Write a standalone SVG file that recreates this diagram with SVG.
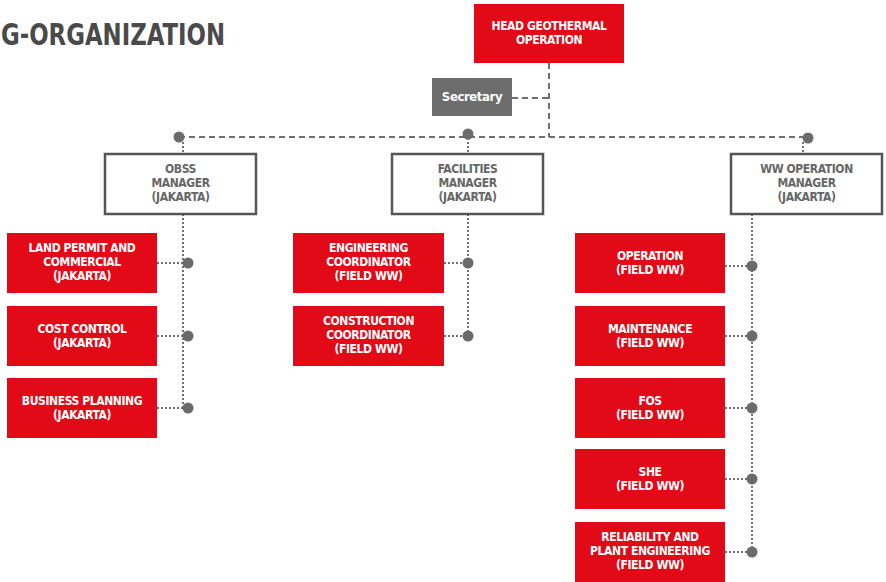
<svg xmlns="http://www.w3.org/2000/svg" width="886" height="582" viewBox="0 0 886 582">
<style>
.t{font-family:"Liberation Sans Narrow","DejaVu Sans Condensed","Liberation Sans",sans-serif;font-weight:bold;text-anchor:middle;font-size:12px;letter-spacing:-0.4px}
.red rect{fill:#e20a17}
.red text{fill:#fff}
.mgr rect{fill:#fff;stroke:#555;stroke-width:2.5}
.mgr text{fill:#666}
.dash{stroke:#707070;stroke-width:2;stroke-dasharray:6 4;fill:none}
.dot{stroke:#707070;stroke-width:2;stroke-dasharray:2 2;fill:none}
.pt{fill:#6b6b6b}
</style>
<rect width="886" height="582" fill="#fff"/>
<text x="1" y="45" font-family="Liberation Sans Narrow,DejaVu Sans Condensed,Liberation Sans,sans-serif" font-weight="bold" font-size="30" fill="#4a4a4a" textLength="224" lengthAdjust="spacingAndGlyphs">G-ORGANIZATION</text>

<g id="connectors">
<path class="dash" d="M549 63V137M512 98H549M179 137H808"/>
<path class="dot" d="M183 142V154M468 138V154M803 142V154"/>
<path class="dot" d="M183 214V408M157 263H188M157 336H188M157 408H188"/>
<path class="dot" d="M468 214V336M444 263H468M444 336H468"/>
<path class="dot" d="M752 214V552M725 266H752M725 336H752M725 408H752M725 479H752M725 552H752"/>
<circle class="pt" cx="179" cy="137" r="5.5"/>
<circle class="pt" cx="468" cy="134" r="5.5"/>
<circle class="pt" cx="808" cy="138" r="5.5"/>
<circle class="pt" cx="188" cy="263" r="5.5"/>
<circle class="pt" cx="188" cy="336" r="5.5"/>
<circle class="pt" cx="188" cy="408" r="5.5"/>
<circle class="pt" cx="468" cy="263" r="5.5"/>
<circle class="pt" cx="468" cy="336" r="5.5"/>
<circle class="pt" cx="752" cy="266" r="5.5"/>
<circle class="pt" cx="752" cy="336" r="5.5"/>
<circle class="pt" cx="752" cy="408" r="5.5"/>
<circle class="pt" cx="752" cy="479" r="5.5"/>
<circle class="pt" cx="752" cy="552" r="5.5"/>
</g>

<g id="head" class="red"><rect x="474" y="4" width="150" height="59"/><text class="t" x="549" y="30">HEAD GEOTHERMAL</text><text class="t" x="549" y="44">OPERATION</text></g>
<g id="secretary"><rect x="432" y="78" width="80" height="38" fill="#6d6d6d"/><text class="t" x="472" y="101" fill="#fff" style="font-size:13px">Secretary</text></g>

<g id="obss" class="mgr"><rect x="105" y="154" width="151" height="60"/><text class="t" x="180.5" y="173">OBSS</text><text class="t" x="180.5" y="187">MANAGER</text><text class="t" x="180.5" y="201">(JAKARTA)</text></g>
<g id="facilities" class="mgr"><rect x="392" y="154" width="151" height="60"/><text class="t" x="467.5" y="173">FACILITIES</text><text class="t" x="467.5" y="187">MANAGER</text><text class="t" x="467.5" y="201">(JAKARTA)</text></g>
<g id="ww" class="mgr"><rect x="731" y="154" width="151" height="60"/><text class="t" x="806.5" y="173">WW OPERATION</text><text class="t" x="806.5" y="187">MANAGER</text><text class="t" x="806.5" y="201">(JAKARTA)</text></g>

<g id="land" class="red"><rect x="7" y="233" width="150" height="60"/><text class="t" x="82" y="252">LAND PERMIT AND</text><text class="t" x="82" y="266">COMMERCIAL</text><text class="t" x="82" y="280">(JAKARTA)</text></g>
<g id="cost" class="red"><rect x="7" y="306" width="150" height="60"/><text class="t" x="82" y="333">COST CONTROL</text><text class="t" x="82" y="347">(JAKARTA)</text></g>
<g id="business" class="red"><rect x="7" y="378" width="150" height="60"/><text class="t" x="82" y="405">BUSINESS PLANNING</text><text class="t" x="82" y="419">(JAKARTA)</text></g>

<g id="engineering" class="red"><rect x="293" y="233" width="151" height="60"/><text class="t" x="368.5" y="252">ENGINEERING</text><text class="t" x="368.5" y="266">COORDINATOR</text><text class="t" x="368.5" y="280">(FIELD WW)</text></g>
<g id="construction" class="red"><rect x="293" y="306" width="151" height="60"/><text class="t" x="368.5" y="325">CONSTRUCTION</text><text class="t" x="368.5" y="339">COORDINATOR</text><text class="t" x="368.5" y="353">(FIELD WW)</text></g>

<g id="operation" class="red"><rect x="575" y="233" width="150" height="60"/><text class="t" x="650" y="260">OPERATION</text><text class="t" x="650" y="274">(FIELD WW)</text></g>
<g id="maintenance" class="red"><rect x="575" y="306" width="150" height="60"/><text class="t" x="650" y="333">MAINTENANCE</text><text class="t" x="650" y="347">(FIELD WW)</text></g>
<g id="fos" class="red"><rect x="575" y="378" width="150" height="60"/><text class="t" x="650" y="405">FOS</text><text class="t" x="650" y="419">(FIELD WW)</text></g>
<g id="she" class="red"><rect x="575" y="449" width="150" height="60"/><text class="t" x="650" y="476">SHE</text><text class="t" x="650" y="490">(FIELD WW)</text></g>
<g id="reliability" class="red"><rect x="575" y="522" width="150" height="60"/><text class="t" x="650" y="541">RELIABILITY AND</text><text class="t" x="650" y="555">PLANT ENGINEERING</text><text class="t" x="650" y="569">(FIELD WW)</text></g>
</svg>
